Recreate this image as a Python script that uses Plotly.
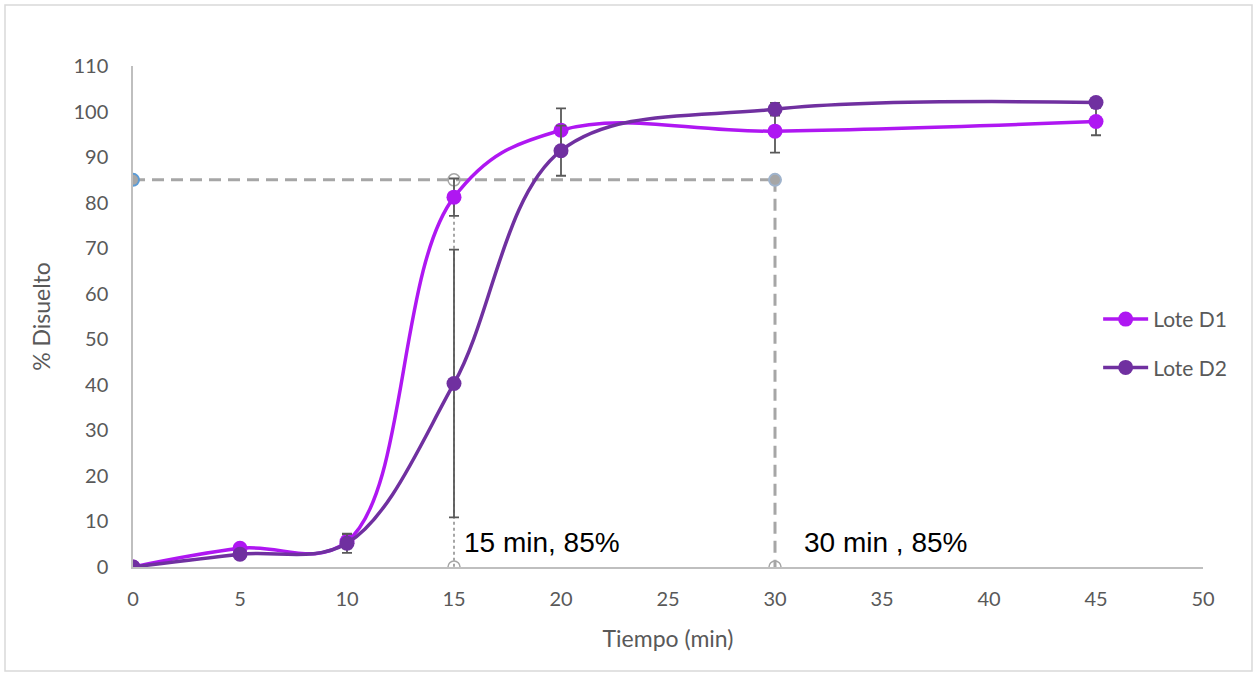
import plotly.graph_objects as go

# Data
tiempo = [0, 5, 10, 15, 20, 30, 45]
lote_d1 = [0, 4.1, 5.6, 81.2, 95.9, 95.7, 97.8]
lote_d1_err = [0, 0.4, 1.5, 4.1, 4.8, 4.7, 3.0]
lote_d2 = [0, 2.8, 5.2, 40.3, 91.4, 100.5, 102.0]
lote_d2_err = [0, 0.4, 2.1, 29.4, 5.5, 1.4, 0.8]

ref_h_x = [0, 30]
ref_h_y = [85, 85]
ref_30_x = [30, 30]
ref_30_y = [85, 0]
ref_15_x = [15, 15]
ref_15_y = [85, 0]

x_ticks = [0, 5, 10, 15, 20, 25, 30, 35, 40, 45, 50]
y_ticks = [0, 10, 20, 30, 40, 50, 60, 70, 80, 90, 100, 110]

C1 = "#AF17F2"
C2 = "#7030A0"
GRAY = "#A6A6A6"
TXT = "#595959"
FONT = "Lato"

fig = go.Figure()

# reference lines
fig.add_trace(go.Scatter(x=ref_15_x, y=ref_15_y, mode="lines+markers", showlegend=False,
                         line=dict(color=GRAY, width=2, dash="dot"),
                         marker=dict(symbol="circle-open", size=12, color=GRAY, line=dict(width=1.5)),
                         hoverinfo="skip"))
fig.add_trace(go.Scatter(x=ref_30_x, y=ref_30_y, mode="lines", showlegend=False,
                         line=dict(color=GRAY, width=3, dash="12px,7px"), hoverinfo="skip"))
fig.add_trace(go.Scatter(x=[30], y=[0], mode="markers", showlegend=False,
                         marker=dict(symbol="circle-open", size=12, color=GRAY, line=dict(width=1.5)),
                         hoverinfo="skip"))
fig.add_trace(go.Scatter(x=ref_h_x, y=ref_h_y, mode="lines+markers", showlegend=False,
                         line=dict(color=GRAY, width=3, dash="12px,7px"),
                         marker=dict(size=12, color=GRAY,
                                     line=dict(color=["#5B9BD5", "#9FB3CC"], width=2)),
                         hoverinfo="skip"))

# series
fig.add_trace(go.Scatter(x=tiempo, y=lote_d1, name="Lote D1", mode="lines+markers",
                         legendgroup="d1",
                         line=dict(color=C1, width=3.5, shape="spline", smoothing=1.1),
                         marker=dict(size=15, color=C1),
                         error_y=dict(type="data", array=lote_d1_err, color=TXT, thickness=1.8, width=5)))
fig.add_trace(go.Scatter(x=tiempo, y=lote_d2, name="Lote D2", mode="lines+markers",
                         legendgroup="d2",
                         line=dict(color=C2, width=3.5, shape="spline", smoothing=1),
                         marker=dict(size=15, color=C2),
                         error_y=dict(type="data", array=lote_d2_err, color=TXT, thickness=1.8, width=5)))

fig.add_annotation(x=15, y=0, xref="x", yref="y", text="15 min, 85%", showarrow=False,
                   xanchor="left", yanchor="bottom", xshift=8, yshift=7,
                   font=dict(family="Liberation Sans", size=28, color="#000000"))
fig.add_annotation(x=30, y=0, xref="x", yref="y", text="30 min , 85%", showarrow=False,
                   xanchor="left", yanchor="bottom", xshift=27, yshift=7,
                   font=dict(family="Liberation Sans", size=28, color="#000000"))

# chart border
fig.add_shape(type="rect", xref="paper", yref="paper",
              x0=(5 - 133) / 1070, x1=(1252 - 133) / 1070,
              y0=(567 - 671) / 501, y1=(567 - 5) / 501,
              line=dict(color="#D9D9D9", width=1.5), fillcolor="rgba(0,0,0,0)", layer="below")

fig.update_layout(
    width=1255, height=673,
    margin=dict(l=133, r=52, t=66, b=106),
    paper_bgcolor="white", plot_bgcolor="white",
    font=dict(family=FONT, color=TXT, size=20),
    xaxis=dict(range=[0, 50], tickvals=x_ticks, showgrid=False, zeroline=False,
               showline=True, linecolor="#BFBFBF", linewidth=1.5, ticks="",
               ticklabelstandoff=13,
               title=dict(text="Tiempo (min)", font=dict(size=23, color=TXT), standoff=22)),
    yaxis=dict(range=[0, 110], tickvals=y_ticks, showgrid=False, zeroline=False,
               showline=True, linecolor="#BFBFBF", linewidth=1.5, ticks="",
               ticklabelstandoff=19,
               title=dict(text="% Disuelto", font=dict(size=23, color=TXT), standoff=16)),
    legend=dict(x=0.902, y=0.535, xanchor="left", yanchor="top", bgcolor="rgba(0,0,0,0)",
                font=dict(size=21, color=TXT), traceorder="grouped", tracegroupgap=18,
                itemwidth=45),
    showlegend=True,
)

fig.write_html("out.html", config={"displayModeBar": False},
               post_script="document.body.style.margin='0';")
